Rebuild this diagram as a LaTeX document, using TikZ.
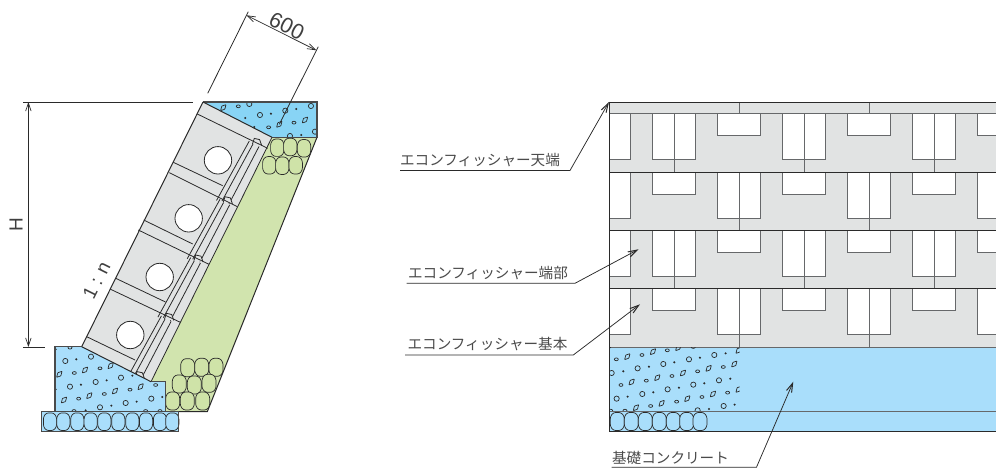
\documentclass[tikz,border=0pt]{standalone}
\usepackage{fontspec}
\setmainfont{Liberation Sans}
\newfontfamily\jpfont{Noto Sans CJK JP}
\usetikzlibrary{arrows.meta}
\definecolor{ink}{HTML}{2A2A2A}
\definecolor{wallgray}{HTML}{E1E3E3}
\definecolor{topblue}{HTML}{88D4F5}
\definecolor{baseblue}{HTML}{A9DEFB}
\definecolor{soilgreen}{HTML}{D1E4AE}
\definecolor{stonegreen}{HTML}{CFE3A8}
\definecolor{seam}{HTML}{66686A}
\tikzset{
  line/.style={draw=ink,line width=0.8pt},
  seamline/.style={draw=seam,line width=1pt},
  window/.style={fill=white,draw=seam,line width=1pt},
  rowline/.style={draw=ink,line width=0.9pt},
  concrete/.style={draw=ink!85,line width=1.3pt},
  gravel/.style={draw=ink,line width=0.7pt},
  rock/.style={draw=ink,line width=0.7pt,rounded corners=2.2pt},
  dim/.style={draw=ink,line width=0.7pt,{Straight Barb[length=8pt,width=5.5pt,line width=0.7pt]}-{Straight Barb[length=8pt,width=5.5pt,line width=0.7pt]}},
  leader/.style={draw=ink,line width=0.75pt,-{Straight Barb[length=9pt,width=5.5pt,line width=1pt]}},
  jplabel/.style={font=\jpfont\fontsize{14.6}{14.6}\selectfont,text=ink!85,inner sep=0pt},
  dimlabel/.style={font=\fontsize{21.5}{21.5}\selectfont,text=ink!90,inner sep=0pt}
}
% stone: centre x,y half-width half-height fill
\newcommand{\rockstone}[5]{%
  \draw[rock,fill=#5] (#1-#3,#2-#4*0.55) -- (#1-#3*0.55,#2-#4) -- (#1+#3*0.55,#2-#4) -- (#1+#3,#2-#4*0.55)
    -- (#1+#3,#2+#4*0.55) -- (#1+#3*0.55,#2+#4) -- (#1-#3*0.55,#2+#4) -- (#1-#3,#2+#4*0.55) -- cycle;}
% gravel marks in a 3x zoom coordinate system
\newcommand{\gravelmarks}[4]{%
  \foreach \gx/\gy in {#1} {\draw[gravel] (\gx,\gy) circle[radius=2.6pt];}
  \foreach \gx/\gy in {#2} {\fill[ink] (\gx,\gy) circle[radius=1.15pt];}
  \foreach \gx/\gy in {#3} {\draw[gravel,rounded corners=0.5pt] (\gx,\gy) ++(-2.7pt,-3pt) -- ++(1.2pt,4.6pt) -- ++(4.2pt,1.4pt) -- ++(-1.2pt,-4.6pt) -- cycle;}
  \foreach \gx/\gy in {#4} {\draw[gravel] (\gx,\gy) ellipse[x radius=2pt,y radius=1.4pt];}
}
\begin{document}
\begin{tikzpicture}[x=1pt,y=-1pt]
\useasboundingbox (0,0) rectangle (996,468);

% ---------- left: section ----------
\coordinate (wallTL) at (203,102);
\coordinate (wallTR) at (272,137.3);
\coordinate (wallBR) at (151,381.7);
\coordinate (wallBL) at (81.7,346.7);

% backfill
\fill[soilgreen] (wallTR) -- (317,137.3) -- (207.3,411.7) -- (165.5,411.7) -- (165.5,381.7) -- (wallBR) -- cycle;
\draw[line,line width=1pt] (317,137.3) -- (207.3,411.7) -- (165.5,411.7);

% stones in backfill
\foreach \sx/\sy in {277.3/147.7,290.3/147,304/148.3,269.3/165.3,282.3/165.7,295.7/165.3}
  {\rockstone{\sx}{\sy}{6.7}{8.7}{stonegreen}}
\foreach \sx/\sy in {187.7/367.7,201.7/367.3,216/367.3,179.3/384,194.3/385,209/383.3,172.7/401,187.3/401,202.7/401}
  {\rockstone{\sx}{\sy}{7}{9}{stonegreen}}

% top concrete
\begin{scope}
  \clip (wallTL) -- (317,102) -- (317,137.3) -- (wallTR) -- cycle;
  \fill[topblue] (wallTL) -- (317,102) -- (317,137.3) -- (wallTR) -- cycle;
  \begin{scope}[x=0.3333pt,y=-0.3333pt]
    \gravelmarks{780/345,856/332,933/318,870/408,945/395,748/312}{736/354,813/341,889/327,904/405,763/381}{670/323,838/373,915/360}{715/319,806/382,882/368}
  \end{scope}
\end{scope}
\draw[concrete] (wallTL) -- (317,102) -- (317,137.3) -- (wallTR);

% wall
\fill[wallgray] (wallTL) -- (wallTR) -- (wallBR) -- (wallBL) -- cycle;
\begin{scope}
  \clip (wallTL) -- (wallTR) -- (wallBR) -- (wallBL) -- cycle;
  \foreach \k in {0,1,2,3} {
    \begin{scope}[shift={({-29.3*\k},{58.3*\k})}]
      \draw[line] (249.3,141) -- (216.5,200.5);
      \draw[line] (253,144) -- (222,201);
      \draw[line] (259,146.5) -- (229,204);
    \end{scope}
  }
  \foreach \k in {0,1,2,3,4} {
    \begin{scope}[shift={({-29.3*\k},{58.3*\k})}]
      \draw[line,fill=wallgray] (252.5,144) -- (254.3,138.4) -- (259.6,139.6) -- (261.7,145.5);
    \end{scope}
  }
\end{scope}
\draw[line] (197.3,114) -- (267.7,148.3);
\draw[line] (169.3,172.7) -- (237.3,206.7);
\draw[line] (138.3,230) -- (209,264.3);
\draw[line] (110,289) -- (180.3,322.3);
\draw[line] (173.3,162.3) -- (222.7,185.7);
\draw[line] (143.7,220) -- (192.7,244);
\draw[line] (115.7,278.3) -- (165.5,302);
\draw[line] (86.7,336.7) -- (135,360);
\foreach \cx/\cy in {218/160.3,188.7/218.3,159.7/277,130.3/335}
  {\draw[line,fill=white] (\cx,\cy) circle[radius=13.7pt];}
\draw[line,line width=1pt] (wallTL) -- (wallBL);
\draw[line] (wallTR) -- (wallBR);
\draw[line,line width=1pt] (wallTL) -- (wallTR);

% base concrete
\begin{scope}
  \clip (55,346.7) -- (wallBL) -- (wallBR) -- (165.5,381.7) -- (165.5,411.7) -- (55,411.7) -- cycle;
  \fill[baseblue] (55,346.7) -- (wallBL) -- (wallBR) -- (165.5,381.7) -- (165.5,411.7) -- (55,411.7) -- cycle;
  \begin{scope}[shift={(0,230)},x=0.3333pt,y=-0.3333pt]
    \gravelmarks{196/393,273/380,363/443,287/456,210/470,377/519,454/506,300/532}{229/388,397/437,320/451,243/464,410/515,487/501,334/527,167/478,257/541,167/358}{255/420,332/407,178/433,422/470,345/483,268/497,192/510}{300/415,223/429,467/465,390/479,313/492,236/506,222/543,437/543,480/543,210/353}
  \end{scope}
\end{scope}
\draw[concrete] (wallBL) -- (55,346.7) -- (55,411.7) -- (165.5,411.7) -- (165.5,381.7) -- (wallBR);
\draw[line,line width=1pt] (wallBL) -- (wallBR);

% foundation stones
\fill[baseblue] (41.7,411.7) rectangle (178.3,431.3);
\foreach \sx in {50,63.3,77.3,90.7,104.3,118.3,132.3,146,160,172.3}
  {\rockstone{\sx}{421.7}{6.6}{8.8}{baseblue}}
\draw[concrete] (41.7,411.7) rectangle (178.3,431.3);

% dimensions
\coordinate (HtopA) at (23,102);
\coordinate (HtopB) at (193,102);
\coordinate (HbotA) at (23,347);
\coordinate (HbotB) at (45,347);
\draw[line] (HtopA) -- (HtopB);
\draw[line] (HbotA) -- (HbotB);
\coordinate (Ha) at (28.4,102);
\coordinate (Hb) at (28.4,347);
\draw[dim] (Ha) -- (Hb);
\node[dimlabel,rotate=90,font=\fontsize{19}{19}\selectfont] (Hlabel) at (16,224.5) {H};

\coordinate (wExtA) at (248.3,11.7);
\coordinate (wExtB) at (207.7,93.3);
\coordinate (wExtC) at (318.3,46.7);
\coordinate (wExtD) at (279.3,124.3);
\draw[line] (wExtA) -- (wExtB);
\draw[line] (wExtC) -- (wExtD);
\coordinate (wa) at (246.5,15.3);
\coordinate (wb) at (316.3,50.3);
\draw[dim] (wa) -- (wb);
\node[dimlabel,rotate=-27] (widthlabel) at (286.8,26) {600};
\node[dimlabel,rotate=63.5,font=\fontsize{19}{19}\selectfont] (slopelabel) at (96.5,280) {1 : n};

% ---------- right: elevation ----------
\begin{scope}
\clip (600,95) rectangle (996,468);
\fill[baseblue] (609,347) rectangle (1000,431);
\fill[wallgray] (609,102) rectangle (1000,347);
% end pieces
\foreach \ya/\yb in {114/160,172/218,230.3/276,288.7/334.3}
  {\draw[window] (609,\ya) -- (630.3,\ya) -- (630.3,\yb) -- (609,\yb);}
% rows 1 and 3: tall at 674,804,934; short at 739,869,999
\foreach \ya/\yt/\ys/\yn in {114/160/136/172, 230.3/276/252.3/288.7}{
  \foreach \c in {674,804,934}{
    \draw[window] (\c-21.3,\ya) rectangle (\c+21.3,\yt);
    \draw[seamline] (\c,\ya) -- (\c,\yn);
  }
  \foreach \c in {739,869,999}{
    \draw[window] (\c-21.3,\ya) rectangle (\c+21.3,\ys);
  }
}
% rows 2 and 4: tall at 739,869,999; short at 674,804,934
\foreach \ya/\yt/\ys/\yn in {172/218/194/230.3, 288.7/334.3/310.3/347}{
  \foreach \c in {739,869,999}{
    \draw[window] (\c-21.3,\ya) rectangle (\c+21.3,\yt);
    \draw[seamline] (\c,\ya) -- (\c,\yn);
  }
  \foreach \c in {674,804,934}{
    \draw[window] (\c-21.3,\ya) rectangle (\c+21.3,\ys);
  }
}
\foreach \c in {739,869} {\draw[seamline] (\c,102) -- (\c,114);}
\draw[seamline] (609,114) -- (1000,114);
\foreach \yy in {172,230.3,288.7} {\draw[rowline] (609,\yy) -- (1000,\yy);}
\draw[seamline] (609,347) -- (1000,347);
\draw[rowline] (609,102) -- (1000,102);

% gravel
\begin{scope}
  \clip (609.5,347.5) rectangle (739.5,411);
  \begin{scope}[shift={(390,270)},x=0.3333pt,y=-0.3333pt]
    \gravelmarks{743/295,820/282,897/268,973/255,665/309,987/331,910/344,833/358,757/372,680/386,923/421,1001/408}{700/304,777/290,853/277,930/263,1007/250,1021/326,943/340,867/353,790/367,713/380,957/417,1034/404,660/232}{712/260,789/245,865/233,1033/282,956/295,879/309,802/323,725/336,1046/358,969/372,892/386,815/400,738/413,1046/241}{679/268,756/255,832/241,910/231,1000/291,923/304,846/318,769/332,693/345,1013/368,936/381,860/395,782/408,705/422,662/422}
  \end{scope}
\end{scope}
\draw[seamline] (609,411.3) -- (1000,411.3);
\foreach \sx in {617.3,631.3,645.3,659.3,673.3,686.7,700}
  {\rockstone{\sx}{421.5}{7}{9}{baseblue}}
\draw[rowline,line width=1pt] (609,431) -- (1000,431);
\draw[rowline,line width=1pt] (609,102) -- (609,431);
\end{scope}

% labels and leaders
\node[jplabel] (lblTop) at (480,160) {エコンフィッシャー天端};
\node[jplabel] (lblEnd) at (488,273) {エコンフィッシャー端部};
\node[jplabel] (lblStd) at (487.5,344) {エコンフィッシャー基本};
\node[jplabel] (lblBase) at (670.5,457.5) {基礎コンクリート};

\coordinate (tailTop) at (400,170.5);
\coordinate (kneeTop) at (570,170.5);
\coordinate (tipTop) at (609,102);
\coordinate (tailEnd) at (406.7,283.3);
\coordinate (kneeEnd) at (575,283.3);
\coordinate (tipEnd) at (638.5,249.3);
\coordinate (tailStd) at (405,355);
\coordinate (kneeStd) at (573.3,355);
\coordinate (tipStd) at (640,304.3);
\coordinate (tailBase) at (611.7,467.2);
\coordinate (kneeBase) at (756.5,467.2);
\coordinate (tipBase) at (793.3,381.7);
\draw[leader] (tailTop) -- (kneeTop) -- (tipTop);
\draw[leader] (tailEnd) -- (kneeEnd) -- (tipEnd);
\draw[leader] (tailStd) -- (kneeStd) -- (tipStd);
\draw[leader] (tailBase) -- (kneeBase) -- (tipBase);
\end{tikzpicture}
\end{document}
